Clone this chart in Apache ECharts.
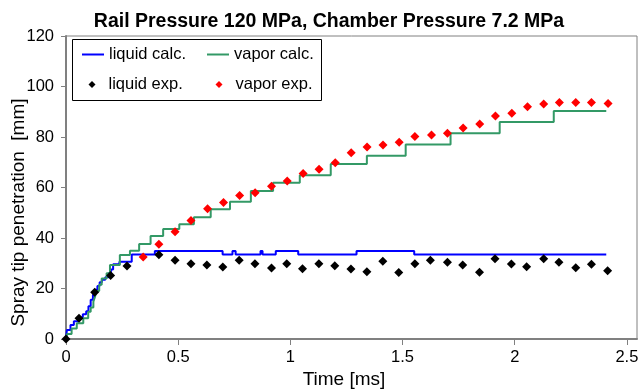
<!DOCTYPE html>
<html>
<head>
<meta charset="utf-8">
<script src="https://cdn.jsdelivr.net/npm/echarts@6/dist/echarts.min.js"></script>
<style>html,body{margin:0;padding:0;background:#fff}#c{width:640px;height:392px}</style>
</head>
<body>
<div id="c"></div>
<script>
const titleText = 'Rail Pressure 120 MPa, Chamber Pressure 7.2 MPa';
const xName = 'Time [ms]';
const yName = 'Spray tip penetration  [mm]';
const seriesNames = ['liquid calc.', 'vapor calc.', 'liquid exp.', 'vapor exp.'];

// liquid calc. (step line: time of change, new value)
const liqCalcT = [0, 0.004, 0.02, 0.035, 0.055, 0.075, 0.09, 0.1, 0.11, 0.12, 0.13, 0.14, 0.15, 0.16, 0.175, 0.19, 0.2, 0.21, 0.238, 0.293, 0.396, 0.698, 0.742, 0.756, 0.867, 0.876, 0.935, 1.035, 1.295, 1.552, 2.408];
const liqCalcV = [0, 3.6, 5.5, 7, 8.5, 9.8, 11, 13, 15.5, 17.5, 19.5, 21, 22.5, 23.5, 24.5, 26, 27.5, 29.6, 30.6, 33.5, 34.9, 33.5, 34.9, 33.5, 34.9, 33.5, 34.9, 33.5, 34.9, 33.5, 33.5];

// vapor calc. (step line)
const vapCalcT = [0, 0.005, 0.025, 0.048, 0.077, 0.099, 0.11, 0.122, 0.13, 0.137, 0.148, 0.159, 0.181, 0.196, 0.24, 0.285, 0.326, 0.377, 0.433, 0.505, 0.57, 0.645, 0.731, 0.824, 0.923, 1.042, 1.18, 1.341, 1.514, 1.714, 1.933, 2.174, 2.408];
const vapCalcV = [0, 2, 4.2, 6.2, 8.2, 10.8, 12.5, 14.8, 17, 19, 21.5, 24, 26, 29.3, 33.3, 35.0, 37.6, 40.8, 43.6, 45.4, 48.2, 51.4, 54.4, 58.6, 61.9, 64.9, 69.3, 72.6, 77.0, 81.5, 85.9, 90.3, 90.3];

// liquid exp.
const liqExpT = [0, 0.058, 0.128, 0.199, 0.272, 0.414, 0.486, 0.557, 0.628, 0.699, 0.772, 0.842, 0.916, 0.984, 1.054, 1.127, 1.198, 1.27, 1.341, 1.412, 1.483, 1.555, 1.624, 1.700, 1.768, 1.843, 1.912, 1.985, 2.053, 2.129, 2.197, 2.272, 2.342, 2.414];
const liqExpV = [0, 8.2, 18.5, 25.1, 28.9, 33.4, 31.2, 29.8, 29.3, 28.5, 31.2, 29.8, 28.1, 29.8, 27.8, 29.8, 29.0, 27.7, 26.6, 30.8, 26.3, 29.8, 31.2, 30.4, 29.3, 26.4, 31.8, 29.7, 28.6, 31.8, 30.4, 28.2, 29.6, 27.0];

// vapor exp.
const vapExpT = [0.344, 0.414, 0.486, 0.557, 0.631, 0.702, 0.774, 0.843, 0.916, 0.986, 1.057, 1.128, 1.2, 1.271, 1.342, 1.413, 1.485, 1.555, 1.629, 1.70, 1.77, 1.844, 1.914, 1.987, 2.057, 2.129, 2.199, 2.272, 2.342, 2.416];
const vapExpV = [32.5, 37.5, 42.5, 46.9, 51.6, 54.1, 56.8, 57.9, 60.5, 62.6, 65.5, 67.2, 69.8, 73.8, 76.0, 76.8, 77.9, 80.2, 80.8, 81.5, 83.6, 85.1, 88.3, 89.4, 92.0, 93.1, 93.7, 93.7, 93.7, 93.3];

const yTicks = [0, 20, 40, 60, 80, 100, 120];
const xTicks = [0, 0.5, 1, 1.5, 2, 2.5];

const zip = (a, b) => a.map((v, i) => [v, b[i]]);
const FONT = "'Liberation Sans', Arial, sans-serif";
const colors = ['#0000ff', '#339966', '#000000', '#ff0000'];

const chart = echarts.init(document.getElementById('c'), null, {renderer: 'canvas'});

function legendItem(i, left, top, isLine) {
  return {
    show: true,
    data: [{name: seriesNames[i], icon: isLine ? 'rect' : 'diamond'}],
    left: left, top: top,
    padding: 0,
    itemWidth: isLine ? 22 : 7,
    itemHeight: isLine ? 2 : 7,
    itemGap: 0,
    z: 10,
    textStyle: {fontFamily: FONT, fontSize: 16.5, color: '#000', padding: isLine ? 0 : [0, 0, 0, 8]},
    itemStyle: {color: colors[i], borderWidth: 0, opacity: 1},
    lineStyle: {width: 0},
    selectedMode: false
  };
}

chart.setOption({
  animation: false,
  backgroundColor: '#ffffff',
  title: {
    text: titleText,
    left: 324, top: 7, textAlign: 'center',
    textStyle: {fontFamily: FONT, fontSize: 19.5, fontWeight: 'bold', color: '#000'}
  },
  grid: {left: 66, right: 3, top: 36, bottom: 53, show: true, borderColor: '#808080', borderWidth: 1,
    backgroundColor: '#fff', containLabel: false, outerBoundsMode: 'none'},
  graphic: [{
    type: 'rect', z: 5,
    shape: {x: 72.5, y: 39.5, width: 249, height: 61},
    style: {fill: '#fff', stroke: '#000', lineWidth: 1}
  }],
  legend: [
    legendItem(0, 82, 46, true),
    legendItem(1, 207, 46, true),
    legendItem(2, 88.5, 76, false),
    legendItem(3, 215.5, 76, false)
  ],
  xAxis: {
    type: 'value', min: 0, max: 2.545, interval: 0.5,
    name: xName, nameLocation: 'middle', nameGap: 31, nameMoveOverlap: false,
    nameTextStyle: {fontFamily: FONT, fontSize: 19, color: '#000', padding: [0, 15, 0, 0]},
    axisLine: {show: true, lineStyle: {color: '#808080', width: 2}},
    axisTick: {show: true, length: 6, lineStyle: {color: '#808080', width: 1}},
    axisLabel: {fontFamily: FONT, fontSize: 16.5, color: '#000', margin: 10, showMaxLabel: false,
      formatter: v => (xTicks.indexOf(v) >= 0 ? String(v) : '')},
    splitLine: {show: false}
  },
  yAxis: {
    type: 'value', min: 0, max: 120, interval: 20,
    name: yName, nameLocation: 'middle', nameGap: 38, nameRotate: 90, nameMoveOverlap: false,
    nameTextStyle: {fontFamily: FONT, fontSize: 19, color: '#000', padding: [0, 50, 0, 0]},
    axisLine: {show: true, lineStyle: {color: '#808080', width: 2}},
    axisTick: {show: true, length: 5, lineStyle: {color: '#808080', width: 1}},
    axisLabel: {fontFamily: FONT, fontSize: 16.5, color: '#000', margin: 12,
      formatter: v => (yTicks.indexOf(v) >= 0 ? String(v) : '')},
    splitLine: {show: false}
  },
  series: [
    {name: seriesNames[0], type: 'line', step: 'end', data: zip(liqCalcT, liqCalcV), showSymbol: false, symbol: 'none',
      lineStyle: {color: colors[0], width: 2}, itemStyle: {color: colors[0]}, z: 2},
    {name: seriesNames[1], type: 'line', step: 'end', data: zip(vapCalcT, vapCalcV), showSymbol: false, symbol: 'none',
      lineStyle: {color: colors[1], width: 2}, itemStyle: {color: colors[1]}, z: 3},
    {name: seriesNames[2], type: 'scatter', data: zip(liqExpT, liqExpV), symbol: 'diamond', symbolSize: 9,
      itemStyle: {color: colors[2], opacity: 1}, z: 4},
    {name: seriesNames[3], type: 'scatter', data: zip(vapExpT, vapExpV), symbol: 'diamond', symbolSize: 9,
      itemStyle: {color: colors[3], opacity: 1}, z: 4}
  ]
});
</script>
</body>
</html>
